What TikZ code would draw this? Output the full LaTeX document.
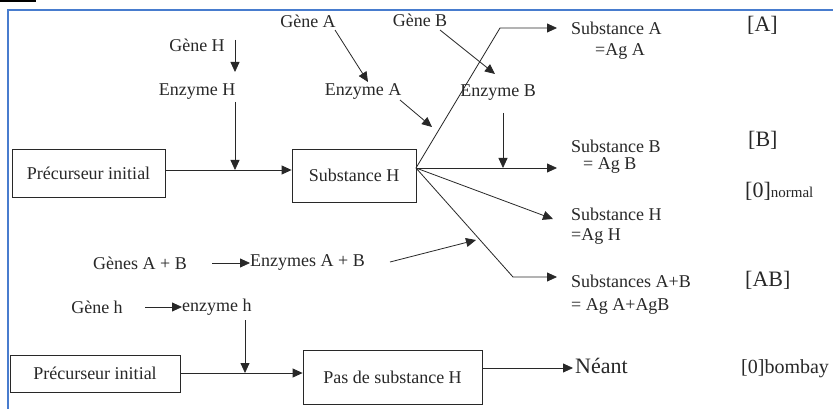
\documentclass[tikz,border=0pt]{standalone}
\usepackage{fontspec}
\setmainfont{Liberation Serif}
\usetikzlibrary{arrows.meta}
\definecolor{framebl}{RGB}{72,124,206}
\definecolor{ink}{RGB}{40,40,40}
\tikzset{
  lbl/.style={font=\fontsize{18}{20}\selectfont, inner sep=0pt, text=ink},
  big/.style={font=\fontsize{22}{24}\selectfont, inner sep=0pt, text=ink},
  boxn/.style={draw=ink, line width=0.8pt, inner sep=0pt, font=\fontsize{18}{20}\selectfont, text=ink},
  conn/.style={draw=ink, line width=0.8pt},
  arr/.style={conn, -{Triangle[length=10pt,width=9pt]}},
}
\begin{document}
\begin{tikzpicture}[x=1pt,y=-1pt]
\clip (0,0) rectangle (833,409);
\fill[white] (0,0) rectangle (833,409);
% frame
\fill[black] (0,0) rectangle (36,2.5);
\draw[framebl, line width=2pt] (833,10) -- (8,10) -- (8,409);

% boxes
\node[boxn, minimum width=153pt, minimum height=48pt] (pre1) at (88.5,173) {Précurseur initial};
\node[boxn, minimum width=124pt, minimum height=53pt] (subH) at (354,175.5) {Substance H};
\node[boxn, minimum width=170pt, minimum height=37pt] (pre2) at (95,373.5) {Précurseur initial};
\node[boxn, minimum width=179pt, minimum height=54pt] (pasH) at (392.5,377) {Pas de substance H};

% gene / enzyme labels
\node[lbl] (geneH) at (197,45) {Gène H};
\node[lbl] (enzH) at (197,92) {Enzyme H};
\node[lbl] (geneA) at (308,21) {Gène A};
\node[lbl] (enzA) at (363,92) {Enzyme A};
\node[lbl] (geneB) at (420,20) {Gène B};
\node[lbl] (enzB) at (498,93) {Enzyme B};
\node[lbl] (genesAB) at (140,263) {Gènes A + B};
\node[lbl, anchor=west] (enzAB) at (250,263) {Enzymes A + B};
\node[lbl] (geneh) at (97,307) {Gène h};
\node[lbl, anchor=west] (enzh) at (182,307) {enzyme h};

% products
\node[lbl, anchor=west] (sA) at (571,28) {Substance A};
\node[lbl, anchor=west] (sA2) at (595,52) {=Ag A};
\node[lbl, anchor=west] (sB) at (571,146) {Substance B};
\node[lbl, anchor=west] (sB2) at (583,166) {= Ag B};
\node[lbl, anchor=west] (sH) at (571,214) {Substance H};
\node[lbl, anchor=west] (sH2) at (571,237) {=Ag H};
\node[lbl, anchor=west] (sAB) at (571,281) {Substances A+B};
\node[lbl, anchor=west] (sAB2) at (571,306) {= Ag A+AgB};
\node[big, anchor=west] (neant) at (575,366) {Néant};

% phenotypes
\node[big, anchor=west] (gA) at (747,25) {[A]};
\node[big, anchor=west] (gB) at (748,140) {[B]};
\node[big, anchor=west] (gO) at (745,191) {[0]\fontsize{15}{17}\selectfont normal};
\node[big, anchor=west] (gAB) at (745,280) {[AB]};
\node[big, anchor=west, font=\fontsize{20}{22}\selectfont] (gOb) at (741,369) {[0]bombay};

% coordinates
\coordinate (P) at (416,168);
\coordinate (cA) at (500,28);
\coordinate (tA) at (557,28);
\coordinate (tB) at (557,168);
\coordinate (tH) at (553,219);
\coordinate (cAB) at (513,277);
\coordinate (tAB) at (557,277);
\coordinate (tEA) at (432,127);
\coordinate (tGA) at (368,82);
\coordinate (tGB) at (495,74);
\coordinate (tEB) at (503,168);
\coordinate (tEH) at (235,170);
\coordinate (tGH) at (235,72);
\coordinate (tEAB) at (476,240);
\coordinate (tEh) at (245,373);
\coordinate (tNe) at (573,368);

% main pathway
\draw[arr] (pre1.east |- 0,170) -- (subH.west |- 0,170);
\draw[arr] (235,40) -- (tGH);
\draw[arr] (235,102) -- (tEH);
\draw[arr] (335,30) -- (tGA);
\draw[arr] (400,100) -- (tEA);
\draw[arr] (440,30) -- (tGB);
\draw[arr] (503,113) -- (tEB);
\draw[arr] (P) -- (cA) -- (tA);
\draw[arr] (P) -- (tB);
\draw[arr] (P) -- (tH);
\draw[arr] (P) -- (cAB) -- (tAB);

% A+B
\draw[arr] (212,263) -- (enzAB.west);
\draw[arr] (390,262) -- (tEAB);

% bombay
\draw[arr] (145,307) -- (enzh.west);
\draw[arr] (245,320) -- (tEh);
\draw[arr] (pre2.east |- 0,373) -- (pasH.west |- 0,373);
\draw[arr] (pasH.east |- 0,368) -- (tNe);
\end{tikzpicture}
\end{document}
